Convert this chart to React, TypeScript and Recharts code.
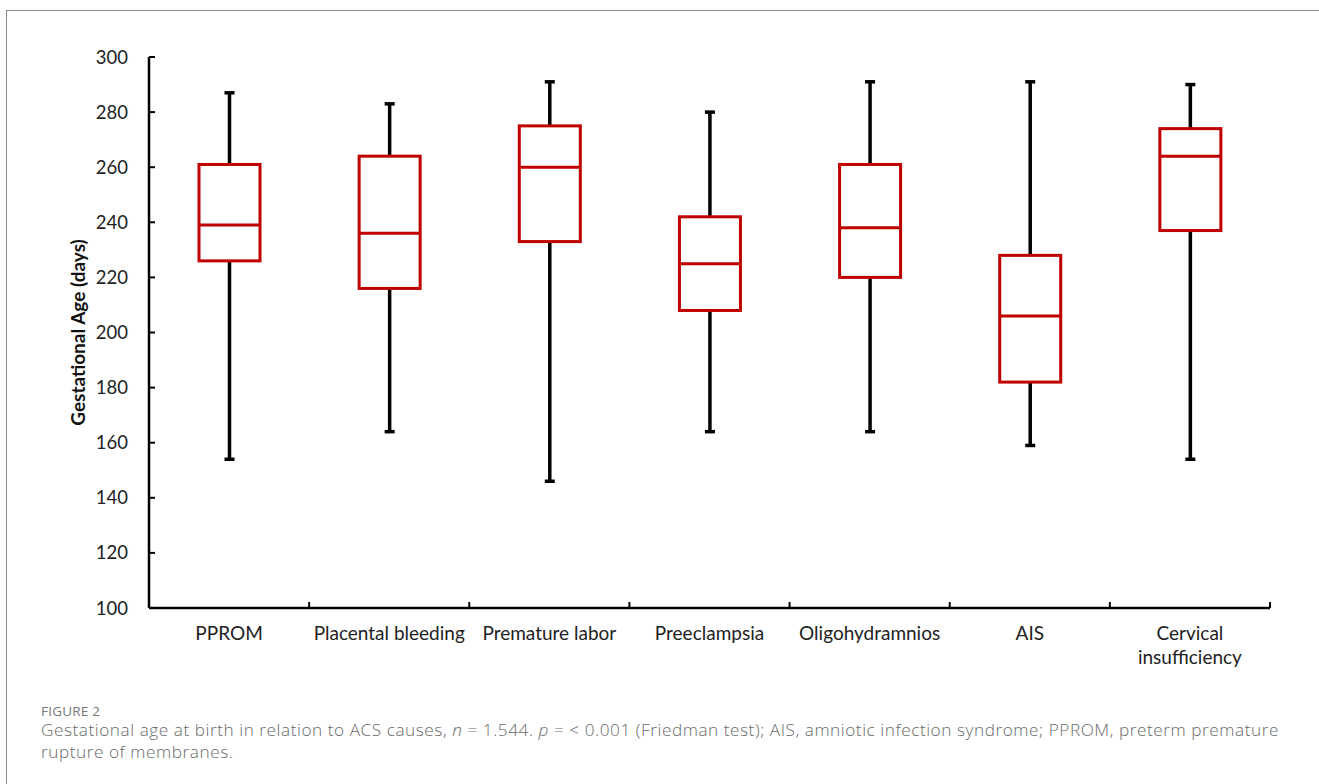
import React from 'react';
import { ComposedChart, Bar, XAxis, YAxis, Label } from 'recharts';

const categories = ['PPROM', 'Placental bleeding', 'Premature labor', 'Preeclampsia', 'Oligohydramnios', 'AIS', 'Cervical\ninsufficiency'];
const minValues = [154, 164, 146, 164, 164, 159, 154];
const q1Values = [226, 216, 233, 208, 220, 182, 237];
const medianValues = [239, 236, 260, 225, 238, 206, 264];
const q3Values = [261, 264, 275, 242, 261, 228, 274];
const maxValues = [287, 283, 291, 280, 291, 291, 290];
const yTicks = [100, 120, 140, 160, 180, 200, 220, 240, 260, 280, 300];
const boundaryTicks = [1, 2, 3, 4, 5, 6, 7];

const data = categories.map((c, i) => ({
  name: c,
  range: [minValues[i], maxValues[i]],
  min: minValues[i],
  q1: q1Values[i],
  median: medianValues[i],
  q3: q3Values[i],
  max: maxValues[i],
}));

const BOX_RED = '#C00000';
const FONT = "Lato, 'Open Sans', sans-serif";

const BoxShape = (props: any) => {
  const { x, y, width, height, payload } = props;
  if (payload == null || height == null) return null;
  const { min, max, q1, q3, median } = payload;
  const py = (v: number) => y + ((max - v) / (max - min)) * height;
  const cx = x + width / 2;
  const capW = 10;
  return (
    <g>
      <line x1={cx} x2={cx} y1={py(max)} y2={py(min)} stroke="#000" strokeWidth={3.5} />
      <line x1={cx - capW / 2} x2={cx + capW / 2} y1={py(max)} y2={py(max)} stroke="#000" strokeWidth={3.5} />
      <line x1={cx - capW / 2} x2={cx + capW / 2} y1={py(min)} y2={py(min)} stroke="#000" strokeWidth={3.5} />
      <rect x={x} y={py(q3)} width={width} height={py(q1) - py(q3)} fill="#fff" stroke={BOX_RED} strokeWidth={3} />
      <line x1={x} x2={x + width} y1={py(median)} y2={py(median)} stroke={BOX_RED} strokeWidth={3} />
    </g>
  );
};

const CategoryTick = (props: any) => {
  const { x, y, payload } = props;
  const lines = String(payload.value).split('\n');
  return (
    <text x={x} y={y} textAnchor="middle" fill="#222" fontSize={19} fontFamily={FONT}>
      {lines.map((l, i) => (
        <tspan key={i} x={x} dy={i === 0 ? '0.71em' : 24}>{l}</tspan>
      ))}
    </text>
  );
};

const EmptyTick = () => <g />;

export default function App() {
  return (
    <div style={{ position: 'absolute', left: 0, top: 0, width: 1319, height: 784, background: '#fff', overflow: 'hidden' }}>
      <div style={{ position: 'absolute', left: 6, top: 10, width: 1330, height: 800, border: '1.5px solid #8c8c8c', boxSizing: 'border-box' }} />
      <div style={{ position: 'absolute', left: 0, top: 0 }}>
        <ComposedChart width={1319} height={700} data={data} margin={{ top: 57, right: 49, bottom: 29, left: 0 }}>
          <XAxis
            xAxisId="a"
            type="number"
            dataKey={() => 0}
            domain={[0, 7]}
            ticks={boundaryTicks}
            tick={<EmptyTick />}
            tickSize={-6}
            height={1}
            axisLine={{ stroke: '#000', strokeWidth: 2.5 }}
            tickLine={{ stroke: '#000', strokeWidth: 2 }}
            allowDataOverflow
          />
          <XAxis
            xAxisId="b"
            dataKey="name"
            type="category"
            axisLine={false}
            tickLine={false}
            tickSize={0}
            tickMargin={18}
            height={62}
            interval={0}
            tick={<CategoryTick />}
          />
          <YAxis
            domain={[100, 300]}
            ticks={yTicks}
            width={149}
            tickSize={-6}
            tickMargin={27}
            axisLine={{ stroke: '#000', strokeWidth: 2.5 }}
            tickLine={{ stroke: '#000', strokeWidth: 2 }}
            tick={{ fill: '#222', fontSize: 18.5, fontFamily: FONT }}
            allowDataOverflow
          >
            <Label
              value="Gestational Age (days)"
              angle={-90}
              position="center"
              dx={4}
              style={{ fontSize: 19, fontWeight: 700, fill: '#111', fontFamily: FONT, textAnchor: 'middle' }}
            />
          </YAxis>
          <Bar xAxisId="b" dataKey="range" barSize={61} shape={<BoxShape />} isAnimationActive={false} />
        </ComposedChart>
      </div>
      <div style={{ position: 'absolute', left: 41, top: 702, fontFamily: "'Open Sans', Lato, sans-serif", color: '#777', fontSize: 13.5, letterSpacing: 0.2 }}>FIGURE 2</div>
      <div style={{ position: 'absolute', left: 41, top: 719, width: 1252, fontFamily: "'Open Sans', Lato, sans-serif", fontWeight: 300, color: '#6a6a6a', fontSize: 17.2, letterSpacing: 0.55, lineHeight: '22px' }}>
        Gestational age at birth in relation to ACS causes, <i>n</i> = 1.544. <i>p</i> = &lt; 0.001 (Friedman test); AIS, amniotic infection syndrome; PPROM, preterm premature rupture of membranes.
      </div>
    </div>
  );
}
